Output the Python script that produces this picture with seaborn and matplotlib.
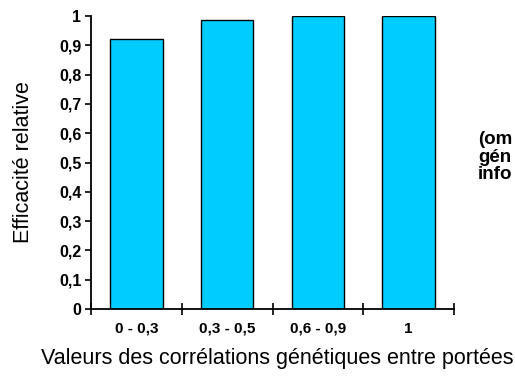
import matplotlib
matplotlib.use("Agg")
import matplotlib.pyplot as plt
import seaborn as sns
import pandas as pd
from matplotlib.ticker import FuncFormatter, MultipleLocator

# data
classes = ["0 - 0,3", "0,3 - 0,5", "0,6 - 0,9", "1"]
efficacite = [0.92, 0.985, 1.0, 1.0]

sns.set_style("ticks")
plt.rcParams['font.family'] = ['Liberation Sans', 'DejaVu Sans']
plt.rcParams['text.color'] = 'black'

df = pd.DataFrame({"classe": classes, "eff": efficacite})

fig = plt.figure(figsize=(5.15, 3.78), dpi=100)
ax = fig.add_axes([0.1767, 0.1825, 0.7049, 0.7752])

sns.barplot(data=df, x="classe", y="eff", color="#00CCFF", saturation=1,
            width=0.58, edgecolor="black", linewidth=1, ax=ax)

ax.set_xlim(-0.5, len(classes) - 0.5)
ax.set_ylim(0, 1)

# spines
for s in ["top", "right"]:
    ax.spines[s].set_visible(False)
for s in ["left", "bottom"]:
    ax.spines[s].set_color("black")
    ax.spines[s].set_linewidth(1.3)

# y ticks, french decimal comma
def fmt(v, p):
    if abs(v) < 1e-9:
        return "0"
    if abs(v - 1) < 1e-9:
        return "1"
    return f"{v:.1f}".replace(".", ",")

ax.yaxis.set_major_locator(MultipleLocator(0.1))
ax.yaxis.set_major_formatter(FuncFormatter(fmt))
ax.tick_params(axis="y", left=True, direction="out", length=4, width=1.2,
               color="black", labelsize=11.5, pad=3)

# x ticks: labels at centers, tick marks between categories
ax.set_xticks(range(len(classes)))
ax.set_xticklabels(classes)
ax.set_xticks([i - 0.5 for i in range(len(classes) + 1)], minor=True)
ax.tick_params(axis="x", which="major", bottom=True, length=0, labelsize=11, pad=9)
ax.tick_params(axis="x", which="minor", bottom=True, direction="inout", length=9,
               width=1.2, color="black")

for lab in ax.get_xticklabels() + ax.get_yticklabels():
    lab.set_fontweight("bold")
    lab.set_color("black")

ax.set_xlabel("Valeurs des corrélations génétiques entre portées", fontsize=15.5,
              color="black", labelpad=9)
ax.xaxis.label.set_x(0.513)
ax.set_ylabel("Efficacité relative", fontsize=15.5, color="black", labelpad=18)

# side note, cut off by the figure edge as in the original
fig.text(478 / 515, 1 - 157 / 378, "(om\ngén\ninfo", fontsize=13.5,
         fontweight="bold", color="black", va="center", ha="left",
         linespacing=1.05)

fig.savefig("out.png", dpi=100)
